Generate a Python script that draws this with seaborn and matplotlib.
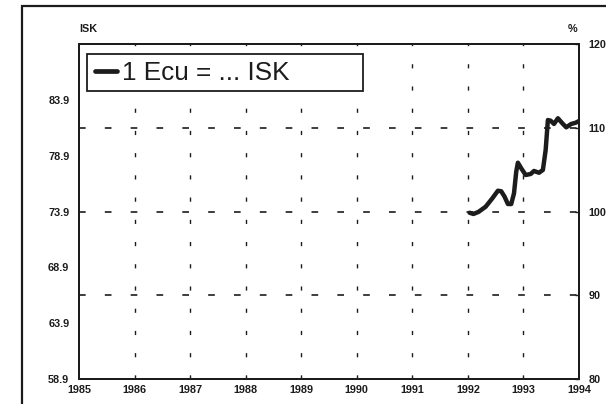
import matplotlib
matplotlib.use("Agg")
import matplotlib.pyplot as plt
import matplotlib.patches as mpatches
import seaborn as sns
import pandas as pd

# ---- data ----
years = [1992.03, 1992.10, 1992.19, 1992.32, 1992.44, 1992.54, 1992.60, 1992.66,
         1992.72, 1992.78, 1992.83, 1992.87, 1992.90, 1992.96, 1993.04, 1993.13,
         1993.19, 1993.28, 1993.35, 1993.40, 1993.44, 1993.49, 1993.55, 1993.62,
         1993.70, 1993.77, 1993.86, 1993.94, 1994.01]
isk = [73.79, 73.68, 73.86, 74.33, 75.08, 75.76, 75.71, 75.23,
       74.57, 74.57, 75.53, 77.46, 78.27, 77.77, 77.17, 77.26,
       77.53, 77.37, 77.62, 79.41, 82.09, 82.03, 81.74, 82.25,
       81.80, 81.44, 81.74, 81.85, 82.03]
series_label = "1 Ecu = ... ISK"
left_ticks = [58.9, 63.9, 68.9, 73.9, 78.9, 83.9]
right_ticks = [80, 90, 100, 110, 120]
x_ticks = list(range(1985, 1995))

df = pd.DataFrame({"year": years, "isk": isk, "series": series_label})

sns.set_theme(style="white")
plt.rcParams["font.family"] = ["Liberation Sans", "DejaVu Sans"]
ink = "#1c1c1c"

fig = plt.figure(figsize=(6.06, 4.04), dpi=100)
ax = fig.add_axes([79 / 606, 25 / 404, 500 / 606, 335 / 404])

sns.lineplot(data=df, x="year", y="isk", color=ink, linewidth=3.2, ax=ax,
             legend=False, estimator=None, sort=False)

ax.set_xlim(1985, 1994)
ax.set_ylim(58.9, 88.9)
ax.set_xticks(x_ticks)
ax.set_xticklabels([str(y) for y in x_ticks])
ax.set_yticks(left_ticks)
ax.set_yticklabels([f"{v:.1f}" for v in left_ticks])
ax.set_xlabel("")
ax.set_ylabel("")

ax2 = ax.twinx()
ax2.set_ylim(80, 120)
ax2.set_yticks(right_ticks)
ax2.set_yticklabels([str(v) for v in right_ticks])

# grid: dotted verticals at each year, dashed horizontals at 90/100/110 %
for yv in x_ticks[1:]:
    ax.axvline(yv, color=ink, lw=1.0, linestyle=(0, (3, 13)), zorder=0)
for pv in [90, 100, 110]:
    ax2.axhline(pv, color=ink, lw=1.2, linestyle=(0, (4, 11.5)), zorder=0)

for a in (ax, ax2):
    for s in a.spines.values():
        s.set_color(ink)
        s.set_linewidth(1.4)

lab_font = dict(fontsize=7.8, fontweight="bold", color=ink)
ax.tick_params(axis="x", direction="in", length=3, width=1, color=ink, pad=4,
               labelsize=7.8, labelcolor=ink)
ax.tick_params(axis="y", length=0, pad=7, labelsize=7.8, labelcolor=ink)
ax2.tick_params(axis="y", direction="in", length=3, width=1, color=ink, pad=7,
                labelsize=7.8, labelcolor=ink)
for t in ax.get_xticklabels() + ax.get_yticklabels() + ax2.get_yticklabels():
    t.set_fontweight("bold")

ax.text(0.0, 1.03, "ISK", transform=ax.transAxes, ha="left", va="bottom", **lab_font)
ax.text(0.988, 1.03, "%", transform=ax.transAxes, ha="center", va="bottom", **lab_font)

# legend with a wide box
box = mpatches.Rectangle((0.0152, 0.861), 0.553, 0.109, transform=ax.transAxes,
                         fill=True, facecolor="white", edgecolor=ink, lw=1.3, zorder=4)
ax.add_patch(box)
handle = plt.Line2D([], [], color=ink, lw=3.4)
leg = ax.legend([handle], [series_label], loc="center left",
                bbox_to_anchor=(0.031, 0.914), frameon=False, fontsize=18.8,
                handlelength=0.85, handletextpad=0.2, borderpad=0, borderaxespad=0)
leg.set_zorder(5)
for t in leg.get_texts():
    t.set_color(ink)

# outer frame
frame = mpatches.Rectangle((22 / 606, -0.05), 1.2, 1 - 6 / 404 + 0.05,
                           transform=fig.transFigure, fill=False,
                           edgecolor=ink, lw=1.6, clip_on=False)
fig.patches.append(frame)

fig.savefig("out.png", dpi=100)
